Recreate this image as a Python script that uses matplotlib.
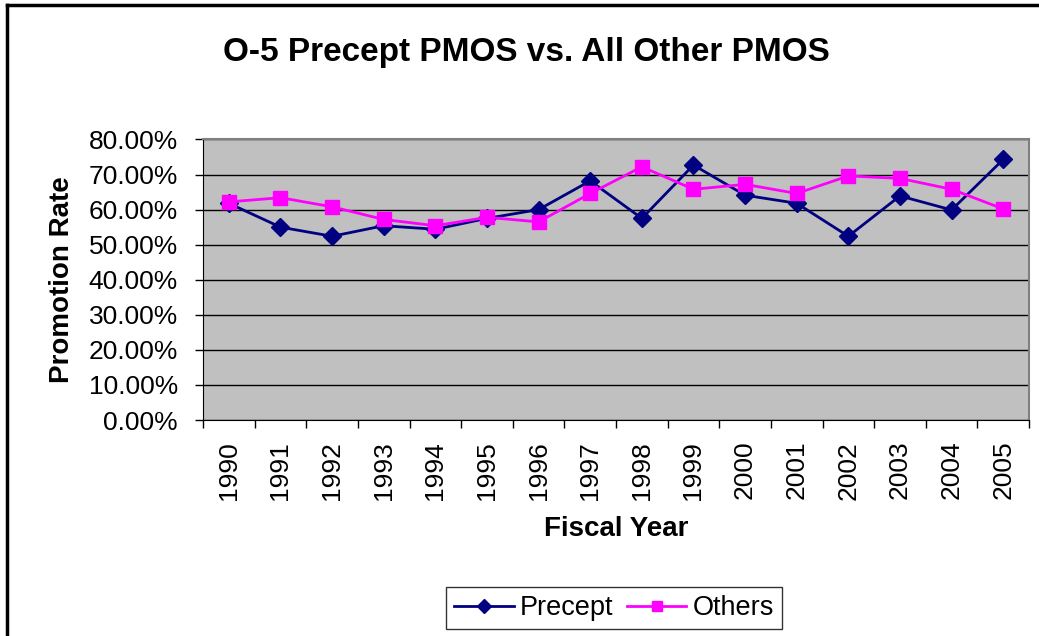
import matplotlib
matplotlib.use("Agg")
import matplotlib.pyplot as plt
from matplotlib.lines import Line2D
from matplotlib.ticker import FuncFormatter
import numpy as np

# donnees
years = ["1990", "1991", "1992", "1993", "1994", "1995", "1996", "1997",
         "1998", "1999", "2000", "2001", "2002", "2003", "2004", "2005"]
precept = [61.8, 55.0, 52.4, 55.4, 54.4, 57.5, 60.0, 68.2,
           57.5, 72.7, 64.1, 61.8, 52.4, 63.9, 59.9, 74.3]
others = [62.2, 63.4, 60.8, 57.2, 55.4, 57.8, 56.5, 64.6,
          72.2, 65.8, 67.2, 64.6, 69.6, 68.9, 65.8, 60.2]

plt.rcParams['font.family'] = ['Liberation Sans', 'DejaVu Sans']

fig = plt.figure(figsize=(10.39, 6.36), dpi=100)
ax = fig.add_axes([0.1954, 0.3396, 0.7950, 0.4411])
ax.set_facecolor("#C0C0C0")

x = np.arange(len(years))
ax.plot(x, precept, color="#000080", lw=2, marker="D", ms=9, label="Precept", zorder=3)
ax.plot(x, others, color="#FF00FF", lw=2, marker="s", ms=9.5, label="Others", zorder=3)

ax.set_xlim(-0.5, len(years) - 0.5)
ax.set_ylim(0, 80)
ax.set_yticks(np.arange(0, 81, 10))
ax.yaxis.set_major_formatter(FuncFormatter(lambda v, p: f"{v:.2f}%"))
ax.yaxis.grid(True, color="black", lw=1)
ax.set_axisbelow(True)

# ticks entre les categories (style Excel)
ax.set_xticks(x)
ax.set_xticklabels(years, rotation=90, fontsize=19)
ax.set_xticks(np.arange(-0.5, len(years), 1), minor=True)
ax.tick_params(axis="x", which="major", length=0, pad=15)
ax.tick_params(axis="x", which="minor", length=6, width=1, direction="out")
ax.tick_params(axis="y", length=6, width=1, direction="out", labelsize=19, pad=12)

for s in ["top", "right"]:
    ax.spines[s].set_color("#808080")
    ax.spines[s].set_linewidth(1.5)
for s in ["left", "bottom"]:
    ax.spines[s].set_color("black")

ax.set_ylabel("Promotion Rate", fontsize=20, fontweight="bold", labelpad=10)
ax.set_xlabel("Fiscal Year", fontsize=20, fontweight="bold", labelpad=12)
fig.text(0.5067, 0.918, "O-5 Precept PMOS vs. All Other PMOS", ha="center", va="center",
         fontsize=24, fontweight="bold")

leg = fig.legend(loc="center", bbox_to_anchor=(0.591, 0.044), ncol=2, fontsize=19.5,
                 frameon=True, fancybox=False, edgecolor="black", handlelength=2.2,
                 columnspacing=0.5, handletextpad=0.22, borderpad=0.3, borderaxespad=0,
                 markerscale=0.75)
leg.get_frame().set_linewidth(1)

# cadre exterieur (haut et gauche seulement)
fig.add_artist(Line2D([0.0065, 1.0], [0.9915, 0.9915], transform=fig.transFigure, color="black", lw=2.5))
fig.add_artist(Line2D([0.0065, 0.0065], [0.0, 0.9915], transform=fig.transFigure, color="black", lw=2.5))

fig.savefig("out.png", dpi=100)
